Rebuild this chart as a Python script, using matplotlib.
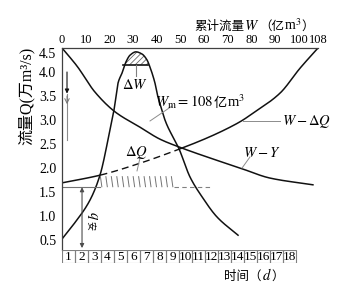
import numpy as np
import matplotlib
matplotlib.use('Agg')
import matplotlib.pyplot as plt
from matplotlib.patches import Rectangle
from matplotlib.collections import LineCollection
from matplotlib.offsetbox import TextArea, HPacker, AnnotationBbox

plt.rcParams['mathtext.fontset'] = 'stix'
plt.rcParams['font.family'] = ['Liberation Serif', 'Noto Sans CJK SC']
plt.rcParams['hatch.linewidth'] = 0.6
SERIF = ['Liberation Serif', 'DejaVu Serif']
CJK = ['Noto Sans CJK SC', 'DejaVu Sans']

# ---------------- data ----------------
days = list(range(1, 19))
q_ticks = [0.5, 1.0, 1.5, 2.0, 2.5, 3.0, 3.5, 4.0, 4.5]
w_ticks = [0, 10, 20, 30, 40, 50, 60, 70, 80, 90, 100, 108]
w_total = 108
day_max = 19.69          # day position of W = 108 on the top scale

# flood hydrograph Q(t)
hyd_t = [0.0, 0.85, 2.15, 2.92, 3.69, 3.85, 4.0, 4.15, 4.31, 4.62, 4.92, 5.23,
         5.69, 6.15, 6.54, 6.77, 7.15, 7.38, 7.69, 7.92, 9.0, 9.85, 10.77,
         11.92, 13.54]
hyd_q = [0.52, 0.81, 1.33, 1.85, 2.79, 3.0, 3.21, 3.48, 3.77, 3.98, 4.21, 4.35,
         4.42, 4.375, 4.25, 4.10, 3.77, 3.48, 3.21, 3.0, 2.40, 1.81, 1.40,
         0.98, 0.60]

# W - Y curve
wy_t = [0.0, 1.15, 2.54, 4.08, 6.0, 7.54, 9.08, 11.15, 13.69, 16.0, 19.3]
wy_q = [4.5, 4.125, 3.58, 3.17, 2.85, 2.60, 2.43, 2.23, 2.0, 1.79, 1.65]

# W - dQ curve (solid / dashed / solid)
wdq_t = [0.0, 2.92, 6.0, 9.08, 11.15, 12.92, 13.92, 14.46, 16.77, 18.31, 19.69]
wdq_q = [1.69, 1.85, 2.10, 2.40, 2.625, 2.85, 3.0, 3.10, 3.56, 4.08, 4.5]
dash_t = [2.92, 9.08]   # range drawn dashed

q_safe = 1.60        # safe discharge line
dq_top = 1.83        # top of hatched band
band_t = [2.92, 8.6]
band_dash_t = [8.6, 11.5]
cut_q = 4.15         # level cutting the peak (dW)
cut_t = [4.69, 6.62]


def pchip(x, y, xn):
    """Monotone cubic (PCHIP) rendering of a read-off curve."""
    x = np.asarray(x, float); y = np.asarray(y, float)
    h = np.diff(x); d = np.diff(y) / h
    m = np.zeros_like(y)
    for k in range(1, len(x) - 1):
        if d[k - 1] * d[k] > 0:
            w1 = 2 * h[k] + h[k - 1]; w2 = h[k] + 2 * h[k - 1]
            m[k] = (w1 + w2) / (w1 / d[k - 1] + w2 / d[k])
    m[0] = d[0]; m[-1] = d[-1]
    idx = np.clip(np.searchsorted(x, xn) - 1, 0, len(x) - 2)
    t = (xn - x[idx]) / h[idx]
    h00 = 2 * t**3 - 3 * t**2 + 1; h10 = t**3 - 2 * t**2 + t
    h01 = -2 * t**3 + 3 * t**2; h11 = t**3 - t**2
    return (h00 * y[idx] + h10 * h[idx] * m[idx] + h01 * y[idx + 1]
            + h11 * h[idx] * m[idx + 1])


# ---------------- figure ----------------
W, H = 357, 282
fig = plt.figure(figsize=(W / 100, H / 100), dpi=100)
L, R, T, B = 62, 318, 48, 250
ax = fig.add_axes([L / W, (H - B) / H, (R - L) / W, (B - T) / H])
ax.set_xlim(0, day_max)
ax.set_ylim(4.5 - (B - T) / 48, 4.5)

for s in ['right', 'bottom']:
    ax.spines[s].set_visible(False)
for s in ['left', 'top']:
    ax.spines[s].set_color('0.25')
    ax.spines[s].set_linewidth(0.9)

ax.set_xticks([])
ax.set_yticks(q_ticks)
ax.set_yticklabels([f'{v:.1f}' for v in q_ticks], fontsize=10, family=SERIF)
ax.tick_params(axis='y', length=0, pad=4)
ax.get_yticklabels()[-1].set_va('top')

# top W scale
ax2 = ax.twiny()
ax2.set_xlim(0, w_total)
ax2.set_xticks(w_ticks)
ax2.set_xticklabels([str(v) for v in w_ticks], fontsize=9, family=SERIF)
ax2.tick_params(axis='x', length=0, pad=1.5)
for s in ax2.spines.values():
    s.set_visible(False)

lc = '#111111'
# hydrograph
ht = np.linspace(hyd_t[0], hyd_t[-1], 400)
ax.plot(ht, pchip(hyd_t, hyd_q, ht), color=lc, lw=1.1)
# W - Y
yt = np.linspace(wy_t[0], wy_t[-1], 300)
ax.plot(yt, pchip(wy_t, wy_q, yt), color=lc, lw=1.1)
# W - dQ
dt = np.linspace(wdq_t[0], wdq_t[-1], 400)
dq = pchip(wdq_t, wdq_q, dt)
m1 = dt <= dash_t[0]
m2 = (dt >= dash_t[0]) & (dt <= dash_t[1])
m3 = dt >= dash_t[1]
ax.plot(dt[m1], dq[m1], color=lc, lw=1.1)
ax.plot(dt[m2], dq[m2], color=lc, lw=1.0, ls=(0, (5, 3)))
ax.plot(dt[m3], dq[m3], color=lc, lw=1.1)

# peak cap
tt = np.linspace(cut_t[0], cut_t[1], 80)
qq = pchip(hyd_t, hyd_q, tt)
ax.fill_between(tt, cut_q, np.maximum(qq, cut_q), facecolor='none',
                hatch='//////', edgecolor='0.4', linewidth=0)
ax.plot(cut_t, [cut_q, cut_q], color=lc, lw=1.2)
ax.plot([5.69, 5.69], [cut_q, 3.92], color='0.5', lw=0.8)
ax.text(5.62, 3.72, r'$\Delta W$', fontsize=10.5, ha='center', va='center')

# safe discharge line and band
ax.plot([0, band_t[0]], [q_safe, q_safe], color='0.45', lw=0.8)
xs = np.arange(band_t[0] + 0.15, band_t[1], 0.42)
segs = [[(x, q_safe), (x - 0.12, dq_top)] for x in xs]
ax.add_collection(LineCollection(segs, colors='0.45', linewidths=0.7))
ax.plot(band_dash_t, [q_safe, q_safe], color='0.5', lw=0.8, ls=(0, (4, 3)))

# labels with leaders
ax.plot([6.77, 8.46], [2.98, 3.29], color='0.55', lw=0.7)
ax.plot([13.92, 16.77], [2.98, 2.98], color='0.55', lw=0.7)
ax.plot([13.85, 14.46], [2.0, 2.23], color='0.55', lw=0.7)
ax.plot([6.0, 5.77], [2.21, 1.94], color='0.55', lw=0.7)

ax.text(16.9, 2.96, r'$W-\Delta Q$', fontsize=10.5, ha='left', va='center')
ax.text(13.9, 2.31, r'$W-Y$', fontsize=10.5, ha='left', va='center')
ax.text(5.69, 2.33, r'$\Delta Q$', fontsize=10.5, ha='center', va='center')


def packed(parts, xy, xycoords, align=(0.5, 0.5), target=ax):
    children = []
    for s, fam, size in parts:
        children.append(TextArea(s, textprops=dict(family=fam, size=size, color='k')))
    pack = HPacker(children=children, pad=0, sep=0, align='baseline')
    ab = AnnotationBbox(pack, xy, xycoords=xycoords, frameon=False,
                        box_alignment=align, pad=0, annotation_clip=False)
    target.add_artist(ab)
    return ab


packed([(r'$W_{\mathrm{m}}=108$ ', SERIF, 10.5), ('亿', CJK, 9.5),
        (r'm$^3$', SERIF, 10.5)], (7.15, 3.375), 'data', align=(0, 0.5))

# left arrows
ax.annotate('', xy=(0.385, 3.55), xytext=(0.385, 4.0),
            arrowprops=dict(arrowstyle='-|>', color=lc, lw=0.8,
                            mutation_scale=6, shrinkA=0, shrinkB=0))
ax.plot([0.385, 0.385], [3.55, 2.58], color='0.55', lw=0.8)
ax.annotate('', xy=(0.385, 3.33), xytext=(0.385, 3.5),
            arrowprops=dict(arrowstyle='->', color='0.45', lw=0.7,
                            mutation_scale=8, shrinkA=0, shrinkB=0))
ax.annotate('', xy=(1.54, ax.get_ylim()[0] + 0.04), xytext=(1.54, q_safe),
            arrowprops=dict(arrowstyle='<|-|>', color='0.3', lw=0.8,
                            mutation_scale=6, shrinkA=0, shrinkB=0))
ax.text(2.27, 1.0, '$q$', fontsize=10.5, rotation=-90, ha='center', va='center')
ax.text(2.1, 0.8, '安', fontsize=6.5, family=CJK, rotation=-90,
        ha='center', va='center')

# day boxes
axd = fig.add_axes([L / W, (H - 263) / H, (R - L) / W, 13 / H])
axd.set_xlim(0, day_max)
axd.set_ylim(0, 1)
axd.axis('off')
for d in days:
    axd.add_patch(Rectangle((d - 1, 0), 1, 1, facecolor='none',
                            edgecolor='0.5', lw=0.8))
    axd.text(d - 0.5, 0.45, str(d), ha='center', va='center', fontsize=9.5,
             family=SERIF)

# axis titles
packed([('累计流量', CJK, 9), ('$W$', SERIF, 10.5), ('（亿', CJK, 9),
        (r'm$^3$', SERIF, 10), ('）', CJK, 9)],
       (254 / W, (H - 25) / H), 'figure fraction')
packed([('时间（', CJK, 9), ('$d$', SERIF, 10.5), ('）', CJK, 9)],
       (254 / W, (H - 275) / H), 'figure fraction')

fig.text(26 / W, (H - 96) / H, '流量Q(万m³/s)', rotation=90,
         family=['Liberation Serif', 'Noto Sans CJK SC'], size=11.5,
         ha='center', va='center')

fig.savefig('out.png', dpi=100)
